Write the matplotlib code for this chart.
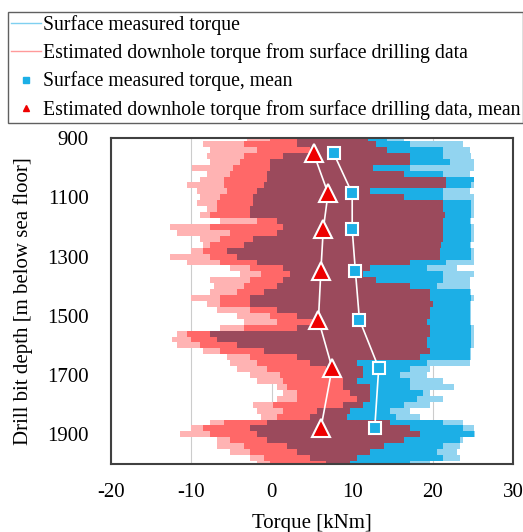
import matplotlib.pyplot as plt
import numpy as np
from matplotlib.lines import Line2D

# depth [m below sea floor], sampled every 20 m
depth = np.arange(900, 2001, 20)

# red trace (estimated downhole torque): extent of faint spikes, dense core
red_spike = [-3.1, -8.5, -7.7, -8.1, -7.7, -9.9, -8.1, -8.9, -10.5, -9.3,
             -8.9, -9.3, -8.1, -8.9, -6.4, -12.6, -11.8, -8.9, -8.5, -10.1,
             -12.6, -10.6, -5.2, -3.9, -7.7, -7.2, -7.7, -10.1, -8.1, -6.8,
             -4.3, -3.5, -6.4, -11.8, -12.4, -11.8, -8.5, -5.6, -5.2, -4.3,
             -2.7, -1.9, 0.6, 1.4, 0.6, -2.3, -1.9, -1.4, -7.7, -10.1,
             -11.4, -6.8, -6.8, -5.2, -2.7, -1.9]
red_core = [-0.2, -3.5, -1.9, -3.5, -3.9, -4.8, -5.2, -6.0, -6.0, -5.6,
            -6.4, -6.8, -6.8, -7.7, -1.9, -7.7, -5.2, -6.4, -7.7, -8.5,
            -7.7, -6.4, -2.7, -1.4, -2.7, -3.5, -4.3, -6.4, -6.4, -2.7,
            -0.2, 0.6, -3.5, -10.6, -10.1, -8.9, -6.4, -2.7, -1.9, -0.6,
            1.0, 1.4, 1.9, 3.1, 3.1, 0.2, 1.4, 0.6, -6.0, -8.5,
            -7.7, -5.2, -3.5, -2.7, -1.0, -0.2]
# overlap of both traces (left edge = blue minimum, right edge = red maximum)
blue_min = [3.1, 3.1, 4.8, 1.4, -0.2, -0.2, -0.6, -0.6, -1.0, -1.9,
            -2.3, -2.3, -2.7, -2.7, 0.6, 1.4, 0.6, -2.3, -3.5, -5.6,
            -4.3, -1.9, 1.4, 2.3, 1.4, 0.6, -1.0, -2.7, -2.7, 0.6,
            3.1, 6.4, 3.1, -7.7, -6.8, -4.3, -1.0, 3.1, 4.8, 6.8,
            8.1, 8.9, 8.9, 9.7, 10.6, 8.9, 5.6, 4.8, -0.6, -2.7,
            -1.9, -0.6, 1.9, 3.1, 4.8, 6.8]
red_max = [12.0, 13.0, 14.3, 17.2, 17.2, 12.6, 16.4, 21.7, 21.7, 12.2,
           16.4, 21.3, 21.3, 21.5, 21.3, 21.3, 21.3, 21.3, 21.1, 20.9,
           20.9, 17.2, 12.2, 11.4, 13.0, 17.2, 19.7, 19.7, 20.1, 19.7,
           19.7, 19.3, 19.7, 19.7, 19.3, 19.3, 19.7, 18.4, 10.6, 11.4,
           11.4, 10.6, 12.2, 12.2, 12.2, 11.4, 9.7, 9.3, 14.7, 17.2,
           18.4, 16.4, 13.9, 12.2, 10.6, 9.7]
# blue trace (surface measured torque): dense core, extent of faint spikes
blue_core = [14.3, 17.2, 21.3, 21.3, 22.2, 17.2, 21.3, 25.1, 24.8, 21.3,
             21.3, 24.8, 24.8, 24.8, 24.6, 24.8, 24.8, 24.8, 24.6, 24.8,
             24.8, 21.7, 19.3, 21.3, 21.3, 20.5, 24.6, 24.8, 24.6, 24.6,
             24.6, 24.6, 24.8, 24.8, 24.8, 24.8, 24.6, 24.6, 19.3, 17.2,
             15.9, 17.2, 17.2, 18.8, 18.0, 16.4, 14.7, 15.5, 21.3, 23.8,
             25.1, 23.4, 21.3, 20.5, 21.3, 17.2]
blue_spike = [16.4, 23.8, 24.6, 24.8, 25.1, 25.1, 24.6, 25.1, 25.1, 24.6,
              25.1, 25.1, 25.1, 25.1, 24.8, 25.1, 25.1, 25.1, 24.8, 25.1,
              25.1, 25.1, 23.0, 25.1, 24.6, 24.6, 24.8, 25.1, 24.8, 24.8,
              24.8, 24.8, 25.1, 25.1, 25.1, 25.1, 24.8, 24.8, 24.6, 19.7,
              19.3, 21.3, 22.6, 19.7, 21.3, 19.7, 17.2, 18.4, 23.8, 25.1,
              25.3, 23.8, 23.4, 23.0, 23.4, 19.7]

# section means
mean_depth = [952, 1087, 1208, 1350, 1513, 1676, 1880]
surface_mean = [7.7, 10.0, 10.0, 10.4, 10.9, 13.3, 12.8]
downhole_mean = [5.2, 7.0, 6.4, 6.1, 5.8, 7.5, 6.1]

c_pink = '#ffb3b3'
c_red = '#ff6868'
c_maroon = '#9b4a5c'
c_blue = '#1cafe6'
c_lblue = '#92d4f0'

plt.rcParams['font.family'] = ['Liberation Serif', 'DejaVu Serif']
plt.rcParams['axes.unicode_minus'] = False

fig = plt.figure(figsize=(5.23, 5.32), dpi=100)
ax = fig.add_axes([0.2122, 0.1278, 0.7687, 0.6128])

ax.fill_betweenx(depth, red_spike, blue_min, step='mid', color=c_pink, lw=0)
ax.fill_betweenx(depth, red_core, blue_min, step='mid', color=c_red, lw=0)
ax.fill_betweenx(depth, red_max, blue_spike, step='mid', color=c_lblue, lw=0)
ax.fill_betweenx(depth, red_max, blue_core, step='mid', color=c_blue, lw=0)
ax.fill_betweenx(depth, blue_min, red_max, step='mid', color=c_maroon, lw=0)

ax.plot(surface_mean, mean_depth, color='white', lw=1.2, marker='s', ms=8,
        mfc=c_blue, mec='white', mew=1.5, zorder=5)
ax.plot(downhole_mean, mean_depth, color='white', lw=1.2, marker='^', ms=13,
        mfc='#ee0000', mec='white', mew=1.5, zorder=5)

ax.set_xlim(-20, 30)
ax.set_ylim(2000, 900)
ax.set_xticks([-20, -10, 0, 10, 20, 30])
ax.set_yticks([900, 1100, 1300, 1500, 1700, 1900])
ax.grid(axis='x', color='#cccccc', lw=0.8)
ax.set_axisbelow(True)
ax.tick_params(length=0, labelsize=15)
ax.tick_params(axis='x', pad=14)
ax.tick_params(axis='y', pad=16)
for s in ax.spines.values():
    s.set_color('#404040')
    s.set_linewidth(1.5)
ax.set_xlabel('Torque [kNm]', fontsize=15, labelpad=8)
ax.set_ylabel('Drill bit depth [m below sea floor]', fontsize=15, labelpad=10)

handles = [
    Line2D([], [], color='#7fd0f0', lw=1),
    Line2D([], [], color='#ff9a9a', lw=1),
    Line2D([], [], ls='none', marker='s', ms=4, color=c_blue),
    Line2D([], [], ls='none', marker='^', ms=5, color='#ee0000'),
]
labels = ['Surface measured torque',
          'Estimated downhole torque from surface drilling data',
          'Surface measured torque, mean',
          'Estimated downhole torque from surface drilling data, mean']
leg = fig.legend(handles, labels, loc='upper left',
                 bbox_to_anchor=(0.0153, 0.977), fontsize=14.2,
                 handlelength=1.5, handletextpad=0.1, labelspacing=0.42,
                 borderpad=0.15, borderaxespad=0, fancybox=False,
                 edgecolor='#606060', framealpha=1)
leg.get_frame().set_linewidth(1.0)

fig.savefig('out.png', dpi=100)
